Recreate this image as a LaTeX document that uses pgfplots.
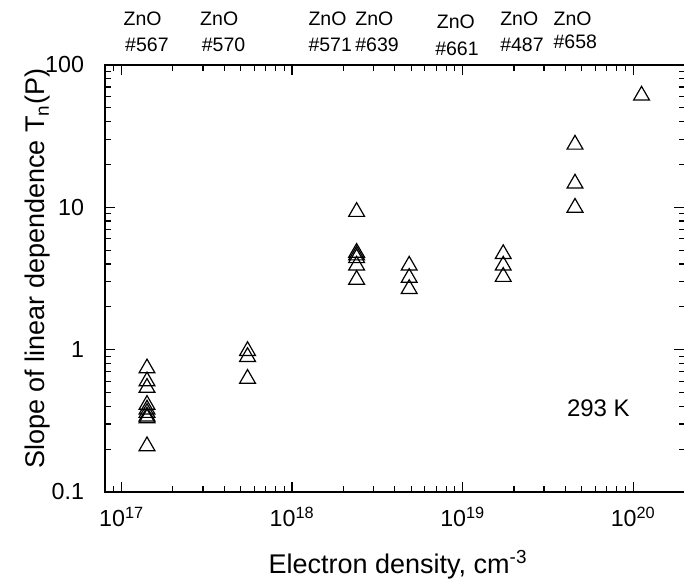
\documentclass[border=0pt]{standalone}
\usepackage{fontspec}
\setmainfont{Liberation Sans}
\usepackage{pgfplots}
\pgfplotsset{compat=1.18}
\begin{document}
\begin{tikzpicture}
\useasboundingbox (-70pt,-62pt) rectangle (386pt,328pt);
\begin{axis}[
  at={(0pt,0pt)}, anchor=south west,
  scale only axis, width=386.3pt, height=284.7pt,
  xmode=log, ymode=log,
  xmin=8e16, xmax=2e20, ymin=0.1, ymax=100,
  xtick={1e17,1e18,1e19,1e20},
  xticklabels={10\textsuperscript{17},10\textsuperscript{18},10\textsuperscript{19},10\textsuperscript{20}},
  minor xtick={9e16,2e17,3e17,4e17,5e17,6e17,7e17,8e17,9e17,2e18,3e18,4e18,5e18,6e18,7e18,8e18,9e18,2e19,3e19,4e19,5e19,6e19,7e19,8e19,9e19,2e20},
  ytick={0.1,1,10,100},
  yticklabels={0.1,1,10,100},
  minor ytick={0.2,0.3,0.4,0.5,0.6,0.7,0.8,0.9,2,3,4,5,6,7,8,9,20,30,40,50,60,70,80,90},
  tick align=inside,
  major tick length=6.7pt, minor tick length=3.8pt,
  axis line style={line width=0.8pt},
  every tick/.style={black, line width=0.8pt},
  tick label style={font=\fontsize{15.5}{18}\selectfont},
  yticklabel style={xshift=-10.5pt},
  xticklabel style={yshift=-6.5pt},
  clip=false,
]
\addplot[only marks, mark=triangle, mark size=6.1pt, mark options={line width=0.8pt, black}] coordinates {
  (1.41e17,0.74) (1.41e17,0.60) (1.41e17,0.54) (1.41e17,0.41) (1.41e17,0.38)
  (1.41e17,0.36) (1.41e17,0.34) (1.41e17,0.33) (1.41e17,0.21)
  (5.48e17,0.98) (5.48e17,0.89) (5.48e17,0.625)
  (2.39e18,9.3) (2.39e18,4.8) (2.39e18,4.6) (2.39e18,4.4) (2.39e18,3.9) (2.39e18,3.1)
  (4.86e18,3.9) (4.86e18,3.2) (4.86e18,2.67)
  (1.73e19,4.7) (1.73e19,3.9) (1.73e19,3.25)
  (4.56e19,27.6) (4.56e19,14.7) (4.56e19,9.95)
  (1.12e20,61)
};
\end{axis}
\begin{scope}[every node/.style={font=\fontsize{13}{15}\selectfont, inner sep=0pt, anchor=base west}]
\node at (12.2pt,311.3pt) {ZnO}; \node at (13.3pt,293.5pt) {\#567};
\node at (63.3pt,311.3pt) {ZnO}; \node at (64.4pt,293.5pt) {\#570};
\node at (135.5pt,311.3pt) {ZnO}; \node at (135.5pt,293.5pt) {\#571};
\node at (166.7pt,311.3pt) {ZnO}; \node at (166.7pt,293.5pt) {\#639};
\node at (221.1pt,309.1pt) {ZnO}; \node at (220.0pt,291.3pt) {\#661};
\node at (263.3pt,311.3pt) {ZnO}; \node at (263.3pt,293.5pt) {\#487};
\node at (298.9pt,311.3pt) {ZnO}; \node at (298.9pt,295.8pt) {\#658};
\end{scope}
\node[font=\fontsize{16}{19}\selectfont, inner sep=0pt, anchor=base west] at (307.8pt,50.2pt) {293 K};
\node[font=\fontsize{18}{21}\selectfont, inner sep=0pt, anchor=base west] at (108.9pt,-54.2pt) {Electron density, cm\textsuperscript{-3}};
\node[font=\fontsize{18}{21}\selectfont, inner sep=0pt, anchor=base, rotate=90] at (-40pt,148.7pt) {Slope of linear dependence T\textsubscript{n}(P)};
\end{tikzpicture}
\end{document}
